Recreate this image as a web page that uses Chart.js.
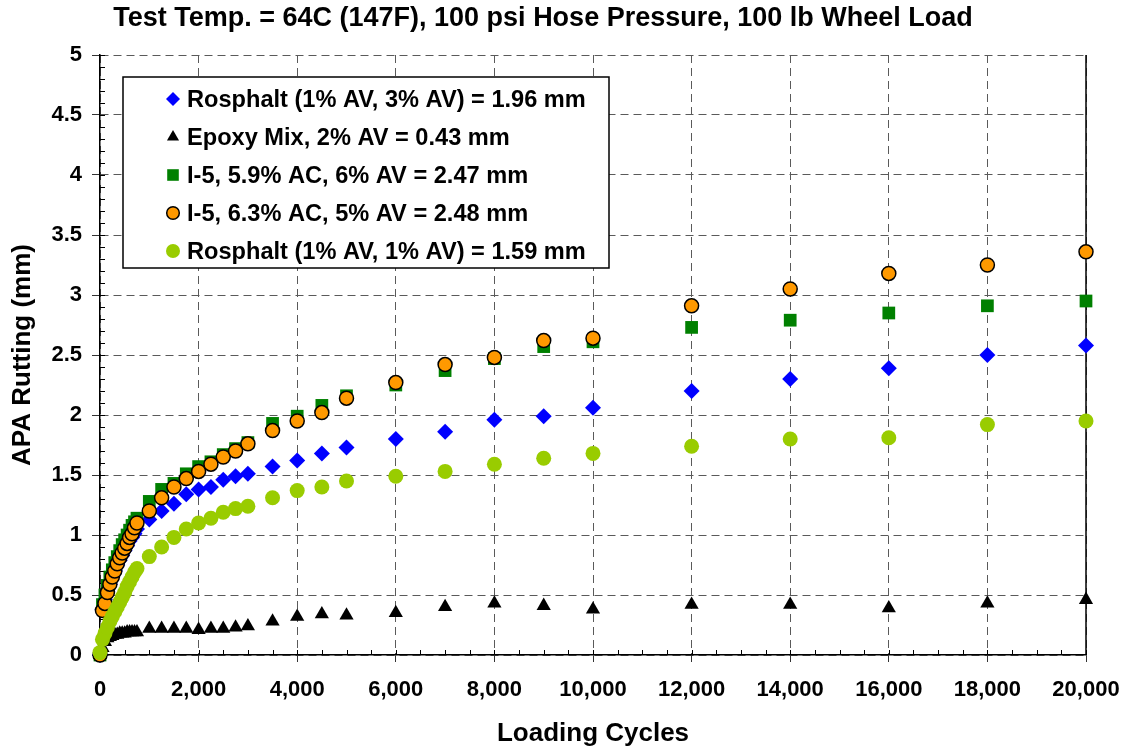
<!DOCTYPE html>
<html>
<head>
<meta charset="utf-8">
<script src="https://cdn.jsdelivr.net/npm/chart.js@4.4.1/dist/chart.umd.min.js"></script>
<style>
  html, body { margin: 0; padding: 0; background: #ffffff; }
  #wrap { width: 1130px; height: 751px; position: relative; }
</style>
</head>
<body>
<div id="wrap"><canvas id="chart" width="1130" height="751"></canvas></div>
<script>
// ---------------- DATA ----------------
const cycles = [0, 50, 100, 150, 200, 250, 300, 350, 400, 450, 500, 550, 600, 650, 700, 750,
  1000, 1250, 1500, 1750, 2000, 2250, 2500, 2750, 3000, 3500, 4000, 4500, 5000,
  6000, 7000, 8000, 9000, 10000, 12000, 14000, 16000, 18000, 20000];

const rosphalt13 = [0, 0.38, 0.46, 0.53, 0.59, 0.65, 0.70, 0.75, 0.79, 0.83, 0.87, 0.91, 0.95, 0.98, 1.01, 1.05,
  1.13, 1.20, 1.26, 1.34, 1.38, 1.40, 1.46, 1.49, 1.51, 1.57, 1.62, 1.68, 1.73,
  1.80, 1.86, 1.96, 1.99, 2.06, 2.20, 2.30, 2.39, 2.50, 2.58];

const epoxyMix = [0, 0.06, 0.11, 0.14, 0.15, 0.16, 0.17, 0.17, 0.18, 0.18, 0.18, 0.19, 0.19, 0.19, 0.19, 0.19,
  0.22, 0.22, 0.22, 0.22, 0.21, 0.22, 0.22, 0.23, 0.24, 0.28, 0.32, 0.34, 0.33,
  0.35, 0.40, 0.43, 0.41, 0.38, 0.42, 0.42, 0.39, 0.43, 0.46];

const i5ac59 = [0, 0.42, 0.50, 0.58, 0.65, 0.71, 0.77, 0.82, 0.87, 0.92, 0.96, 1.00, 1.04, 1.08, 1.11, 1.14,
  1.28, 1.38, 1.43, 1.51, 1.57, 1.61, 1.67, 1.72, 1.77, 1.93, 1.99, 2.08, 2.16,
  2.25, 2.37, 2.47, 2.57, 2.61, 2.73, 2.79, 2.85, 2.91, 2.95];

const i5ac63 = [0, 0.37, 0.43, 0.52, 0.59, 0.65, 0.70, 0.76, 0.81, 0.85, 0.89, 0.93, 0.98, 1.01, 1.06, 1.10,
  1.20, 1.31, 1.40, 1.47, 1.53, 1.59, 1.65, 1.70, 1.76, 1.87, 1.95, 2.02, 2.14,
  2.27, 2.42, 2.48, 2.62, 2.64, 2.91, 3.05, 3.18, 3.25, 3.36];

const rosphalt11 = [0.02, 0.13, 0.18, 0.23, 0.28, 0.32, 0.36, 0.40, 0.44, 0.48, 0.52, 0.57, 0.61, 0.65, 0.69, 0.72,
  0.82, 0.90, 0.98, 1.05, 1.10, 1.14, 1.19, 1.22, 1.24, 1.31, 1.37, 1.40, 1.45,
  1.49, 1.53, 1.59, 1.64, 1.68, 1.74, 1.80, 1.81, 1.92, 1.95];

const seriesLabels = [
  'Rosphalt (1% AV, 3% AV) = 1.96 mm',
  'Epoxy Mix, 2% AV = 0.43 mm',
  'I-5, 5.9% AC, 6% AV = 2.47 mm',
  'I-5, 6.3% AC, 5% AV = 2.48 mm',
  'Rosphalt (1% AV, 1% AV) = 1.59 mm'
];

const xTickValues = [0, 2000, 4000, 6000, 8000, 10000, 12000, 14000, 16000, 18000, 20000];
const yTickValues = [0, 0.5, 1, 1.5, 2, 2.5, 3, 3.5, 4, 4.5, 5];

const chartTitle = 'Test Temp. = 64C (147F), 100 psi Hose Pressure, 100 lb Wheel Load';
const xTitle = 'Loading Cycles';
const yTitle = 'APA Rutting (mm)';

// ---------------- CHART ----------------
const FONT = "'Liberation Sans', Arial, Helvetica, sans-serif";
const toPts = arr => cycles.map((c, i) => ({ x: c, y: arr[i] }));

const datasets = [
  { label: seriesLabels[0], data: toPts(rosphalt13), pointStyle: 'rectRot', pointRadius: 8,
    backgroundColor: '#0000FF', borderColor: '#0000FF', borderWidth: 0, order: 3, legendRadius: 7 },
  { label: seriesLabels[1], data: toPts(epoxyMix), pointStyle: 'triangle', pointRadius: 8.2,
    backgroundColor: '#000000', borderColor: '#000000', borderWidth: 0, order: 4, legendRadius: 7 },
  { label: seriesLabels[2], data: toPts(i5ac59), pointStyle: 'rect', pointRadius: 9,
    backgroundColor: '#008000', borderColor: '#008000', borderWidth: 0, order: 2, legendRadius: 8.2 },
  { label: seriesLabels[3], data: toPts(i5ac63), pointStyle: 'circle', pointRadius: 7,
    backgroundColor: '#FF9900', borderColor: '#000000', borderWidth: 1.5, order: 1, legendRadius: 6.3 },
  { label: seriesLabels[4], data: toPts(rosphalt11), pointStyle: 'circle', pointRadius: 7.5,
    backgroundColor: '#99CC00', borderColor: '#99CC00', borderWidth: 0, order: 0, legendRadius: 7 }
].map(d => Object.assign({ showLine: false, clip: false, pointHoverRadius: d.pointRadius,
  pointBorderWidth: d.borderWidth, pointBackgroundColor: d.backgroundColor, pointBorderColor: d.borderColor }, d));

const decor = {
  id: 'decor',
  beforeDatasetsDraw(chart) {
    const { ctx, chartArea: a, scales: { x, y } } = chart;
    ctx.save();
    ctx.strokeStyle = '#000';
    ctx.lineWidth = 1;
    ctx.setLineDash([]);
    // minor y ticks every 0.1
    for (let k = 0; k <= 50; k++) {
      const py = Math.round(y.getPixelForValue(k / 10)) + 0.5;
      ctx.beginPath(); ctx.moveTo(a.left, py); ctx.lineTo(a.left + 5, py); ctx.stroke();
    }
    // minor x ticks every 500
    for (let v = 0; v <= 20000; v += 500) {
      const px = Math.round(x.getPixelForValue(v)) + 0.5;
      ctx.beginPath(); ctx.moveTo(px, a.bottom); ctx.lineTo(px, a.bottom - 5); ctx.stroke();
    }
    // right frame line
    ctx.lineWidth = 1.5;
    ctx.beginPath(); ctx.moveTo(a.right, a.top); ctx.lineTo(a.right, a.bottom); ctx.stroke();
    ctx.restore();
  },
  afterDraw(chart) {
    const { ctx, chartArea: a } = chart;
    const bx = a.left + 23, by = a.top + 22, bw = 486, bh = 191;
    ctx.save();
    ctx.fillStyle = '#fff';
    ctx.fillRect(bx, by, bw, bh);
    ctx.strokeStyle = '#000';
    ctx.lineWidth = 1.5;
    ctx.setLineDash([]);
    ctx.strokeRect(bx, by, bw, bh);
    ctx.font = 'bold 23.6px ' + FONT;
    ctx.textBaseline = 'middle';
    ctx.textAlign = 'left';
    chart.data.datasets.forEach((d, i) => {
      const cy = by + 22 + i * 38;
      const cx = bx + 50;
      ctx.fillStyle = d.backgroundColor;
      ctx.strokeStyle = d.borderColor;
      ctx.lineWidth = d.borderWidth;
      Chart.helpers.drawPoint(ctx, { pointStyle: d.pointStyle, rotation: 0, radius: d.legendRadius, borderWidth: d.borderWidth }, cx, cy);
      ctx.fillStyle = '#000';
      ctx.fillText(d.label, bx + 64, cy + 1);
    });
    ctx.restore();
  }
};

const gridCommon = { color: '#5a5a5a', lineWidth: 1, drawTicks: true, tickColor: '#333333', tickWidth: 1 };

new Chart(document.getElementById('chart'), {
  type: 'scatter',
  data: { datasets },
  options: {
    responsive: false,
    animation: false,
    devicePixelRatio: 1,
    layout: { padding: { left: 0, right: 44, top: 0, bottom: 0 } },
    plugins: {
      legend: { display: false },
      tooltip: { enabled: false },
      title: {
        display: true, text: chartTitle, color: '#000',
        font: { family: FONT, size: 27, weight: 'bold', lineHeight: 1.2 },
        padding: { top: 2, bottom: 20.6 }
      }
    },
    scales: {
      x: {
        type: 'linear', min: 0, max: 20000,
        afterBuildTicks: s => { s.ticks = xTickValues.map(v => ({ value: v })); },
        afterFit: s => { s.height = 96; s.paddingLeft = 0; s.paddingRight = 0; },
        ticks: {
          color: '#000', padding: 15, maxRotation: 0, autoSkip: false,
          font: { family: FONT, size: 22, weight: 'bold' },
          callback: v => Number(v).toLocaleString('en-US')
        },
        grid: Object.assign({}, gridCommon, { tickLength: 7 }),
        border: { display: true, color: '#000', width: 1.5, dash: [8, 5] },
        title: {
          display: true, text: xTitle, color: '#000',
          font: { family: FONT, size: 26, weight: 'bold', lineHeight: 1.2 },
          padding: { top: 0, bottom: 2 }
        }
      },
      y: {
        type: 'linear', min: 0, max: 5,
        afterBuildTicks: s => { s.ticks = yTickValues.map(v => ({ value: v })); },
        afterFit: s => { s.width = 100; s.paddingTop = 0; s.paddingBottom = 0; },
        ticks: {
          color: '#000', padding: 10,
          font: { family: FONT, size: 22, weight: 'bold' },
          callback: v => String(v)
        },
        grid: Object.assign({}, gridCommon, { tickLength: 8 }),
        border: { display: true, color: '#000', width: 1.5, dash: [8, 5] },
        title: {
          display: true, text: yTitle, color: '#000',
          font: { family: FONT, size: 26, weight: 'bold', lineHeight: 1.2 },
          padding: { top: 7, bottom: 0 }
        }
      }
    }
  },
  plugins: [decor]
});
</script>
</body>
</html>
